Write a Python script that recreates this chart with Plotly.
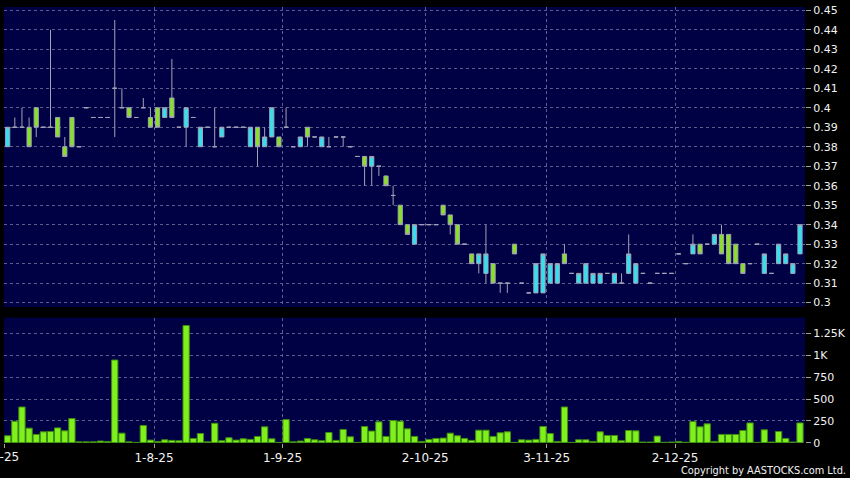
import plotly.graph_objects as go

# ---- data ----
opens = [0.38, 0.39, 0.39, 0.39, 0.40, 0.39, 0.39, 0.395, 0.38, 0.395,
         0.38, 0.40, 0.395, 0.395, 0.395, 0.41, 0.40, 0.40, 0.395, 0.40,
         0.395, 0.40, 0.395, 0.405, 0.39, 0.39, 0.395, 0.38, 0.39, 0.38,
         0.385, 0.39, 0.39, 0.39, 0.38, 0.39, 0.38, 0.385, 0.385, 0.39,
         0.38, 0.38, 0.39, 0.385, 0.38, 0.38, 0.385, 0.385, 0.38, 0.375,
         0.375, 0.37, 0.37, 0.365, 0.355, 0.35, 0.34, 0.33, 0.34, 0.34,
         0.34, 0.35, 0.345, 0.34, 0.33, 0.325, 0.32, 0.315, 0.32, 0.31,
         0.31, 0.33, 0.31, 0.305, 0.305, 0.305, 0.31, 0.31, 0.325, 0.315,
         0.31, 0.31, 0.31, 0.31, 0.315, 0.31, 0.31, 0.315, 0.31, 0.315,
         0.31, 0.315, 0.315, 0.315, 0.325, 0.32, 0.325, 0.33, 0.33, 0.33,
         0.335, 0.335, 0.33, 0.32, 0.32, 0.33, 0.315, 0.315, 0.32, 0.32,
         0.315, 0.325]
highs = [0.39, 0.395, 0.40, 0.395, 0.40, 0.39, 0.44, 0.395, 0.385, 0.395,
         0.38, 0.40, 0.395, 0.395, 0.395, 0.445, 0.41, 0.40, 0.395, 0.405,
         0.40, 0.40, 0.40, 0.425, 0.39, 0.40, 0.395, 0.39, 0.39, 0.40,
         0.39, 0.39, 0.39, 0.39, 0.39, 0.39, 0.39, 0.40, 0.385, 0.40,
         0.38, 0.385, 0.39, 0.385, 0.385, 0.385, 0.385, 0.385, 0.38, 0.375,
         0.375, 0.375, 0.37, 0.365, 0.36, 0.35, 0.34, 0.34, 0.34, 0.34,
         0.34, 0.35, 0.345, 0.34, 0.33, 0.325, 0.325, 0.34, 0.32, 0.31,
         0.31, 0.33, 0.31, 0.305, 0.32, 0.325, 0.32, 0.32, 0.33, 0.315,
         0.315, 0.32, 0.315, 0.315, 0.315, 0.315, 0.315, 0.335, 0.32, 0.315,
         0.31, 0.315, 0.315, 0.315, 0.325, 0.32, 0.335, 0.33, 0.33, 0.335,
         0.34, 0.335, 0.33, 0.32, 0.32, 0.33, 0.325, 0.315, 0.33, 0.325,
         0.32, 0.34]
lows = [0.38, 0.39, 0.39, 0.38, 0.385, 0.39, 0.39, 0.385, 0.375, 0.38,
        0.38, 0.40, 0.395, 0.395, 0.395, 0.385, 0.40, 0.395, 0.395, 0.40,
        0.39, 0.39, 0.395, 0.395, 0.39, 0.38, 0.395, 0.38, 0.39, 0.38,
        0.385, 0.39, 0.39, 0.39, 0.38, 0.37, 0.38, 0.385, 0.38, 0.39,
        0.38, 0.38, 0.38, 0.385, 0.38, 0.38, 0.385, 0.38, 0.38, 0.375,
        0.36, 0.36, 0.365, 0.36, 0.35, 0.34, 0.335, 0.33, 0.34, 0.34,
        0.34, 0.345, 0.335, 0.33, 0.33, 0.32, 0.315, 0.31, 0.31, 0.305,
        0.305, 0.325, 0.31, 0.305, 0.305, 0.305, 0.31, 0.31, 0.32, 0.315,
        0.31, 0.31, 0.31, 0.31, 0.315, 0.31, 0.31, 0.315, 0.31, 0.315,
        0.31, 0.315, 0.315, 0.315, 0.325, 0.32, 0.325, 0.325, 0.33, 0.33,
        0.325, 0.32, 0.32, 0.315, 0.32, 0.33, 0.315, 0.315, 0.32, 0.32,
        0.315, 0.325]
closes = [0.39, 0.39, 0.39, 0.38, 0.39, 0.39, 0.39, 0.385, 0.375, 0.38,
          0.38, 0.40, 0.395, 0.395, 0.395, 0.41, 0.40, 0.395, 0.395, 0.40,
          0.39, 0.39, 0.40, 0.395, 0.39, 0.40, 0.395, 0.39, 0.39, 0.38,
          0.39, 0.39, 0.39, 0.39, 0.39, 0.38, 0.385, 0.40, 0.38, 0.39,
          0.38, 0.385, 0.385, 0.385, 0.385, 0.38, 0.385, 0.385, 0.38, 0.375,
          0.37, 0.375, 0.37, 0.36, 0.355, 0.34, 0.335, 0.34, 0.34, 0.34,
          0.34, 0.345, 0.34, 0.33, 0.33, 0.32, 0.325, 0.325, 0.31, 0.31,
          0.31, 0.325, 0.31, 0.305, 0.32, 0.325, 0.32, 0.32, 0.32, 0.315,
          0.315, 0.32, 0.315, 0.315, 0.315, 0.315, 0.31, 0.325, 0.32, 0.315,
          0.31, 0.315, 0.315, 0.315, 0.325, 0.32, 0.33, 0.325, 0.33, 0.335,
          0.325, 0.32, 0.32, 0.315, 0.32, 0.33, 0.325, 0.315, 0.33, 0.325,
          0.32, 0.34]
volumes = [80, 246, 409, 167, 95, 125, 129, 170, 136, 277,
           10, 10, 10, 19, 15, 947, 110, 10, 4, 197,
           30, 15, 34, 27, 23, 1341, 49, 106, 10, 223,
           23, 57, 30, 45, 38, 72, 182, 45, 4, 265,
           10, 19, 49, 34, 23, 117, 27, 152, 68, 4,
           186, 133, 239, 72, 254, 246, 159, 72, 15, 38,
           49, 53, 110, 80, 49, 27, 144, 144, 72, 114,
           125, 4, 34, 30, 38, 186, 106, 15, 409, 4,
           34, 34, 15, 125, 83, 83, 23, 140, 136, 8,
           8, 76, 5, 8, 15, 5, 242, 182, 216, 15,
           95, 95, 95, 140, 227, 4, 148, 8, 129, 49,
           8, 227]
idx = list(range(len(closes)))

date_tick_pos = [-0.5, 20.5, 38.5, 58.5, 75.5, 93.5]
date_tick_text = ["", "1-8-25", "1-9-25", "2-10-25", "3-11-25", "2-12-25"]
first_date_label = "2-7-25"

price_ticks = [0.30, 0.31, 0.32, 0.33, 0.34, 0.35, 0.36, 0.37, 0.38, 0.39,
               0.40, 0.41, 0.42, 0.43, 0.44, 0.45]
price_tick_text = ["0.3", "0.31", "0.32", "0.33", "0.34", "0.35", "0.36", "0.37",
                   "0.38", "0.39", "0.4", "0.41", "0.42", "0.43", "0.44", "0.45"]
vol_ticks = [0, 250, 500, 750, 1000, 1250]
vol_tick_text = ["0", "250", "500", "750", "1K", "1.25K"]

# ---- styling ----
BG = "#000000"
PLOT_BG = "#000044"
GRID = "#5c5c90"
WICK = "#a2a2b6"
CYAN = "#30e2ef"
GREEN = "#88e222"
VOL = "#80f01c"
VOL_EDGE = "#3e8c12"
TXT = "#f2f2f2"

fig = go.Figure()
fig.add_trace(go.Candlestick(
    x=idx, open=opens, high=highs, low=lows, close=closes,
    increasing=dict(line=dict(color=WICK, width=1), fillcolor=CYAN),
    decreasing=dict(line=dict(color=WICK, width=1), fillcolor=GREEN),
    whiskerwidth=0, xaxis="x", yaxis="y", showlegend=False, hoverinfo="skip"))
fig.add_trace(go.Bar(
    x=idx, y=volumes, marker=dict(color=VOL, line=dict(color=VOL_EDGE, width=1)),
    xaxis="x2", yaxis="y2", showlegend=False, hoverinfo="skip"))

xr = [-0.516, 111.70]
axis_common = dict(showgrid=True, gridcolor=GRID, griddash="3px,3px", gridwidth=1,
                   zeroline=False, showline=False)
fig.update_layout(
    width=850, height=478,
    margin=dict(l=4, r=42, t=6, b=35),
    paper_bgcolor=BG, plot_bgcolor=PLOT_BG,
    font=dict(family="DejaVu Sans", size=11, color=TXT),
    boxgap=0.16, bargap=0.12,
    xaxis=dict(domain=[0, 1], range=xr, tickvals=date_tick_pos, ticktext=[""] * len(date_tick_pos),
               ticks="", rangeslider=dict(visible=False), anchor="y", **axis_common),
    yaxis=dict(domain=[0.3119, 1], range=[0.29775, 0.45169], side="right",
               tickvals=price_ticks, ticktext=price_tick_text,
               ticks="outside", ticklen=5, tickcolor="#a0a0a0", anchor="x",
               tickfont=dict(size=11, color=TXT), **axis_common),
    xaxis2=dict(domain=[0, 1], range=xr, tickvals=date_tick_pos, ticktext=date_tick_text,
                ticks="outside", ticklen=4, tickcolor="#a0a0a0", anchor="y2",
                tickfont=dict(size=12, color=TXT), **axis_common),
    yaxis2=dict(domain=[0, 0.2876], range=[-3, 1432], side="right",
                tickvals=vol_ticks, ticktext=vol_tick_text,
                ticks="outside", ticklen=5, tickcolor="#a0a0a0", anchor="x2",
                tickfont=dict(size=11, color=TXT), **axis_common),
    annotations=[
        dict(text=first_date_label, xref="paper", yref="paper", x=-0.005, y=-0.032,
             xanchor="center", yanchor="middle", showarrow=False,
             font=dict(size=12, color=TXT)),
        dict(text="Copyright by AASTOCKS.com Ltd.", xref="paper", yref="paper",
             x=1.054, y=-0.0634, xanchor="right", yanchor="middle", showarrow=False,
             font=dict(size=9.8, color=TXT)),
    ],
)

fig.write_html("out.html", config={"displayModeBar": False},
               post_script="document.body.style.margin='0';document.body.style.background='#000';")
